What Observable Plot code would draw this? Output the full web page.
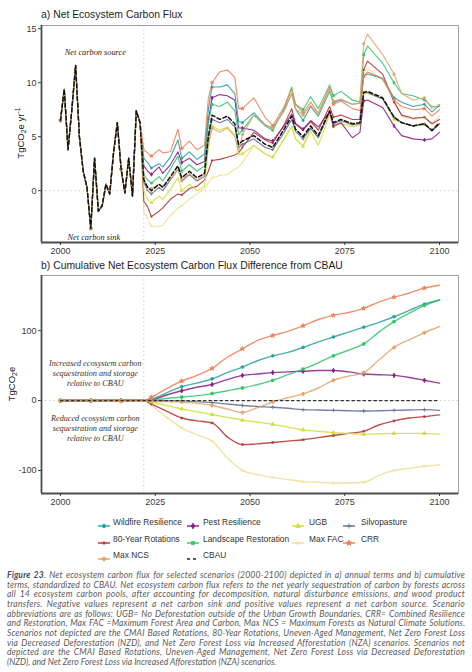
<!DOCTYPE html>
<html>
<head>
<meta charset="utf-8">
<script src="https://cdn.jsdelivr.net/npm/d3@7"></script>
<script src="https://cdn.jsdelivr.net/npm/@observablehq/plot@0.6"></script>
<style>
html,body{margin:0;padding:0;background:#fff;}
body{width:472px;height:672px;position:relative;overflow:hidden;font-family:"Liberation Sans",Arial,sans-serif;}
.abs{position:absolute;}
.ptitle{font-size:10.4px;color:#1e1e1e;line-height:12px;white-space:nowrap;}
.ylab{font-size:9.5px;color:#222;width:140px;height:12px;line-height:12px;text-align:center;transform:rotate(-90deg);white-space:nowrap;}
.ylab sub{font-size:7px;vertical-align:-2px;line-height:0}
.ylab sup{font-size:7px;vertical-align:4px;line-height:0}
.leg{font-size:8.4px;color:#333;line-height:10px;white-space:nowrap;}
#cap{left:7px;top:571px;width:458px;font-family:Lato,"Open Sans",sans-serif;font-style:italic;font-size:8.6px;line-height:9.67px;color:#5b5b5b;}
.cl{white-space:nowrap;height:9.67px;}
.cl b{color:#3f4b5e;font-weight:700;}
</style>
</head>
<body>
<div id="chartA" class="abs" style="left:0;top:0"></div>
<div id="chartB" class="abs" style="left:0;top:255px"></div>
<div class="abs ptitle" style="left:41px;top:9px">a) Net Ecosystem Carbon Flux</div>
<div class="abs ptitle" style="left:41px;top:260px">b) Cumulative Net Ecosystem Carbon Flux Difference from CBAU</div>
<div class="abs ylab" style="left:-49px;top:127px">TgCO<sub>2</sub>e yr<sup>-1</sup></div>
<div class="abs ylab" style="left:-58px;top:378px">TgCO<sub>2</sub>e</div>
<div id="legend"></div>
<div id="cap" class="abs"></div>
<script>
// ---------- DATA ----------
const histYears = [2000,2001,2002,2003,2004,2005,2006,2007,2008,2009,2010,2011,2012,2013,2014,2015,2016,2017,2018,2019,2020,2021];
const histFlux  = [6.5,9.4,3.8,7.5,11.6,5.0,1.8,0.3,-3.5,3.0,-1.9,-1.4,0.6,-0.3,3.5,6.3,2.0,-0.2,3.0,-0.5,7.4,6.3];

const scenYears = [2022,2023,2024,2026,2027,2029,2031,2032,2034,2036,2038,2039,2040,2042,2044,2046,2047,2048,2051,2054,2056,2059,2061,2062,2064,2066,2068,2071,2072,2074,2077,2079,2080,2081,2085,2088,2090,2093,2096,2098,2100];

const annualWildfire   = [3.0,2.6,2.1,2.5,2.2,3.1,4.7,3.0,3.6,2.9, 3.4,7.5,9.6,9.6,9.8,9.0,6.4,6.3,7.2,6.1, 5.8,7.4,9.0,7.6,6.5,7.8,6.9,9.2,8.2,8.4, 8.0,8.1,10.6,10.8,10.4,8.6,8.2,7.8,8.0,7.3,7.9];
const annualPest       = [2.3,1.8,1.5,2.2,1.6,2.4,3.6,2.6,3.0,2.4, 2.7,6.5,8.6,8.9,8.8,8.4,5.8,5.8,5.6,4.8, 4.6,6.0,7.1,6.2,5.7,6.5,5.9,7.3,6.0,6.3, 4.9,5.4,8.3,8.4,7.7,6.0,5.1,4.8,4.7,4.8,5.4];
const annualUGB        = [0.0,-0.8,-1.1,-0.5,-0.8,0.1,1.2,0.0,0.6,0.0, 0.4,4.0,6.0,5.6,5.9,5.2,3.3,3.4,4.2,3.4, 3.1,4.8,6.0,4.8,4.1,5.5,4.2,7.0,5.9,6.2, 5.9,6.1,9.0,9.0,8.5,6.6,6.3,6.0,6.1,5.6,6.2];
const annualSilvo      = [0.8,0.0,-0.3,0.3,0.0,1.0,2.0,0.9,1.5,0.9, 1.3,4.7,6.6,6.3,6.6,5.9,4.0,4.3,4.8,4.0, 3.8,5.4,6.6,5.5,4.8,5.8,4.9,7.3,6.2,6.5, 6.1,6.2,9.1,9.1,8.5,6.8,6.3,6.0,6.2,5.5,6.2];
const annual80Year     = [-1.0,-1.5,-2.4,-1.9,-1.6,-0.8,-0.3,-0.4,0.2,0.4, 1.0,1.8,2.8,2.9,3.1,3.3,3.5,4.0,5.4,4.7, 4.4,6.1,7.6,6.2,5.6,6.4,5.6,7.8,6.8,7.0, 6.6,6.6,11.2,12.0,10.8,8.2,7.0,6.7,6.8,6.2,6.6];
const annualLandscape  = [1.5,1.0,0.7,1.3,0.9,2.0,3.2,1.8,2.4,1.8, 2.3,6.2,8.0,7.8,8.2,7.4,5.2,5.6,7.0,6.0, 5.6,7.6,9.6,8.0,7.5,8.7,7.6,9.8,8.8,9.2, 8.4,8.2,12.6,13.4,11.8,10.0,9.0,8.8,8.4,7.8,7.8];
const annualMaxFAC     = [-2.0,-2.6,-3.3,-3.3,-3.2,-2.3,-1.6,-1.4,-0.8,-0.3, 0.2,0.7,1.2,1.4,1.5,2.0,2.2,2.6,4.2,3.4, 3.1,4.8,5.9,4.8,4.2,5.8,4.9,7.1,6.1,6.4, 6.0,6.1,11.0,11.3,10.2,8.4,6.9,6.6,6.8,6.2,6.9];
const annualCRR        = [3.8,3.5,3.2,3.8,3.5,3.6,5.7,3.9,4.6,3.8, 4.2,8.5,10.0,11.0,11.2,10.5,7.6,7.6,8.6,6.8, 6.0,7.8,9.4,8.0,7.2,8.2,7.2,9.6,8.0,8.3, 7.6,7.4,10.6,11.0,10.4,8.4,7.8,7.5,7.6,6.9,7.5];
const annualMaxNCS     = [1.0,0.3,0.2,0.6,0.4,1.1,2.0,1.0,1.6,1.0, 1.5,4.2,5.8,5.4,5.8,5.0,3.6,5.2,7.0,6.0, 5.8,7.4,9.0,7.6,7.0,7.9,7.1,9.4,8.3,8.5, 8.0,8.1,13.6,14.5,12.6,10.8,9.0,8.4,8.6,7.6,8.0];
const annualCBAU       = [1.0,0.3,0.0,0.6,0.3,1.3,2.3,1.2,1.8,1.2, 1.6,5.0,7.0,6.6,6.9,6.2,4.3,4.6,5.1,4.3, 4.0,5.7,6.9,5.7,5.0,6.0,5.1,7.4,6.3,6.6, 6.2,6.3,9.1,9.2,8.6,6.8,6.3,6.0,6.2,5.6,6.3];

const cumYears = [2000,2008,2016,2022,2024,2028,2032,2036,2040,2044,2048,2052,2056,2060,2064,2068,2072,2076,2080,2084,2088,2092,2096,2100];
const cumWildfire  = [0,0,0,0,2,11,20,25,31,40,48,57,64,69,76,84,91,98,105,112,120,129,138,144];
const cumPest      = [0,0,0,0,1,8,14,19,23,30,36,38,40,41,42,43,43,41,38,37,36,33,29,25];
const cumUGB       = [0,0,0,0,-2,-7,-12,-16,-20,-24,-28,-31,-34,-38,-42,-44,-46,-47,-48,-47.5,-47,-47,-47,-48];
const cumSilvo     = [0,0,0,0,0,-0.3,-0.5,-1.5,-3,-5,-7,-8.5,-9.5,-11,-13,-13.5,-14,-14.5,-15,-14.5,-14,-13.5,-13,-14];
const cum80Year    = [0,0,0,0,-5,-15,-25,-29,-32,-52,-63,-62,-60,-58,-56,-53,-50,-47,-44,-35,-29,-25,-23,-20.5];
const cumLandscape = [0,0,0,0,0.5,3,5,7,10,14,18,23,29,37,45,54,64,72,81,98,113,125,136,144];
const cumMaxFAC    = [0,0,0,0,-7,-24,-39,-49,-58,-82,-100,-106,-110,-113,-116,-117,-118,-118,-117,-107,-100,-97,-94,-92];
const cumCRR       = [0,0,0,0,5,17,28,36,46,62,74,86,93,99,107,116,122,126,132,141,148,154,161,165];
const cumMaxNCS    = [0,0,-1,-1,-1,-1.5,-2,-4,-7,-12,-17,-10,-2,4,9.5,18,29,35,40,58,76,87,97,106];
const cumCBAU      = [0,0,0,0,0,0,0,0,0,0,0,0,0,0,0,0,0,0,0,0,0,0,0,0];

const seriesNames   = ["Wildfire Resilience","Pest Resilience","UGB","Silvopasture","80-Year Rotations","Landscape Restoration","Max FAC","CRR","Max NCS","CBAU"];
const seriesColors  = ["#2a9fa3","#8a1c88","#cfdf3a","#5e6c8c","#b3302e","#33c46c","#f1dc91","#ef7e57","#e1a56e","#111111"];
const seriesSymbols = ["circle","diamond","triangle","plus","asterisk","square","times","star","cross","circle"];

const topTicksX = [2000,2025,2050,2075,2100];
const topTicksY = [0,5,10,15];
const botTicksY = [-100,0,100];

const captionLines = [
 "<b>Figure 23</b>. Net ecosystem carbon flux for selected scenarios (2000-2100) depicted in a) annual terms and b) cumulative",
 "terms, standardized to CBAU. Net ecosystem carbon flux refers to the net yearly sequestration of carbon by forests across",
 "all 14 ecosystem carbon pools, after accounting for decomposition, natural disturbance emissions, and wood product",
 "transfers. Negative values represent a net carbon sink and positive values represent a net carbon source. Scenario",
 "abbreviations are as follows: UGB= No Deforestation outside of the Urban Growth Boundaries, CRR= Combined Resilience",
 "and Restoration, Max FAC =Maximum Forest Area and Carbon, Max NCS = Maximum Forests as Natural Climate Solutions.",
 "Scenarios not depicted are the CMAI Based Rotations, 80-Year Rotations, Uneven-Aged Management, Net Zero Forest Loss",
 "via Decreased Deforestation (NZD), and Net Zero Forest Loss via Increased Afforestation (NZA) scenarios. Scenarios not",
 "depicted are the CMAI Based Rotations, Uneven-Aged Management, Net Zero Forest Loss via Decreased Deforestation",
 "(NZD), and Net Zero Forest Loss via Increased Afforestation (NZA) scenarios."
];

// ---------- BUILD ----------
const annualBySeries = {"Wildfire Resilience":annualWildfire,"Pest Resilience":annualPest,"UGB":annualUGB,"Silvopasture":annualSilvo,"80-Year Rotations":annual80Year,"Landscape Restoration":annualLandscape,"Max FAC":annualMaxFAC,"CRR":annualCRR,"Max NCS":annualMaxNCS};
const cumBySeries = {"Wildfire Resilience":cumWildfire,"Pest Resilience":cumPest,"UGB":cumUGB,"Silvopasture":cumSilvo,"80-Year Rotations":cum80Year,"Landscape Restoration":cumLandscape,"Max FAC":cumMaxFAC,"CRR":cumCRR,"Max NCS":cumMaxNCS};
const drawOrder = ["Max FAC","80-Year Rotations","UGB","Silvopasture","Pest Resilience","Wildfire Resilience","Landscape Restoration","CRR","Max NCS"];

const topRows = [];
for (const s of drawOrder) {
  histYears.forEach((yr,i)=>topRows.push({series:s,year:yr,value:histFlux[i]}));
  scenYears.forEach((yr,i)=>topRows.push({series:s,year:yr,value:annualBySeries[s][i]}));
}
const cbauTop = histYears.map((yr,i)=>({year:yr,value:histFlux[i]})).concat(scenYears.map((yr,i)=>({year:yr,value:annualCBAU[i]})));

const botRows = [];
for (const s of drawOrder) cumYears.forEach((yr,i)=>botRows.push({series:s,year:yr,value:cumBySeries[s][i]}));
const cbauBot = cumYears.map((yr,i)=>({year:yr,value:cumCBAU[i]}));

const baseStyle = {fontFamily:'"Liberation Sans", Arial, sans-serif', fontSize:"9px", color:"#3a3a3a", background:"transparent", overflow:"visible"};
const serif = '"Liberation Serif","DejaVu Serif",serif';
const dotted = {stroke:"#c2c2c2", strokeDasharray:"1.2,3", strokeWidth:1};

const chartA = Plot.plot({
  width:472, height:258, marginLeft:41, marginRight:14, marginTop:25, marginBottom:16,
  style: baseStyle,
  x:{domain:[1995,2105]},
  y:{domain:[-4.8,15.3]},
  color:{domain:seriesNames, range:seriesColors},
  symbol:{domain:seriesNames, range:seriesSymbols},
  marks:[
    Plot.ruleY([0], dotted),
    Plot.ruleX([2022], dotted),
    Plot.line(topRows,{x:"year",y:"value",z:"series",stroke:"series",strokeWidth:1.1,strokeOpacity:0.9}),
    Plot.dot(topRows.filter(d=>d.year%8===0),{x:"year",y:"value",symbol:"series",fill:"series",stroke:"series",r:1.1,strokeWidth:0.7}),
    Plot.line(cbauTop,{x:"year",y:"value",stroke:"#111",strokeWidth:1.5,strokeDasharray:"4,2.5"}),
    Plot.text(["Net carbon source"],{x:2009.2,y:12.8,text:d=>d,fontFamily:serif,fontStyle:"italic",fontSize:8.3,fill:"#222"}),
    Plot.text(["Net carbon sink"],{x:2008.8,y:-4.3,text:d=>d,fontFamily:serif,fontStyle:"italic",fontSize:8.3,fill:"#222"}),
    Plot.frame({stroke:"#a0a0a0",strokeWidth:1}),
    Plot.ruleX([1995],{stroke:"#4d4d4d",strokeWidth:1.8}),
    Plot.ruleY([-4.8],{stroke:"#4d4d4d",strokeWidth:1.8}),
    Plot.axisX({ticks:topTicksX,tickFormat:d=>String(d),tickSize:3,tickPadding:2,label:null}),
    Plot.axisY({ticks:topTicksY,tickFormat:d=>String(d),tickSize:3,tickPadding:2,label:null})
  ]
});
document.getElementById("chartA").appendChild(chartA);

const chartB = Plot.plot({
  width:472, height:252, marginLeft:41, marginRight:14, marginTop:20, marginBottom:14,
  style: baseStyle,
  x:{domain:[1995,2105]},
  y:{domain:[-133,179]},
  color:{domain:seriesNames, range:seriesColors},
  symbol:{domain:seriesNames, range:seriesSymbols},
  marks:[
    Plot.ruleY([0], dotted),
    Plot.ruleX([2022], dotted),
    Plot.line(botRows,{x:"year",y:"value",z:"series",stroke:"series",strokeWidth:1.4,strokeOpacity:0.85,curve:"monotone-x"}),
    Plot.dot(botRows.filter(d=>d.year%8===0),{x:"year",y:"value",symbol:"series",fill:"series",stroke:"series",r:1.4,strokeWidth:0.8}),
    Plot.line(cbauBot,{x:"year",y:"value",stroke:"#333",strokeWidth:1.3,strokeDasharray:"2.5,3"}),
    Plot.text(["Increased ecosystem carbon\nsequestration and storage\nrelative to CBAU"],{x:2009.2,y:40,text:d=>d,fontFamily:serif,fontStyle:"italic",fontSize:8.2,lineHeight:1.22,fill:"#333"}),
    Plot.text(["Reduced ecosystem carbon\nsequestration and storage\nrelative to CBAU"],{x:2009.2,y:-38.6,text:d=>d,fontFamily:serif,fontStyle:"italic",fontSize:8.2,lineHeight:1.22,fill:"#333"}),
    Plot.frame({stroke:"#a0a0a0",strokeWidth:1}),
    Plot.ruleX([1995],{stroke:"#4d4d4d",strokeWidth:1.8}),
    Plot.ruleY([-133],{stroke:"#4d4d4d",strokeWidth:1.8}),
    Plot.axisX({ticks:topTicksX,tickFormat:d=>String(d),tickSize:3,tickPadding:2,label:null}),
    Plot.axisY({ticks:botTicksY,tickFormat:d=>String(d),tickSize:3,tickPadding:2,label:null})
  ]
});
document.getElementById("chartB").appendChild(chartB);

// ---------- LEGEND ----------
const legendLayout = [["Wildfire Resilience","Pest Resilience","UGB","Silvopasture"],["80-Year Rotations","Landscape Restoration","Max FAC","CRR"],["Max NCS","CBAU"]];
const colSym = [104,193,298,349], colText = [113,203,309,361], rowY = [522,539,555];
const symMap = {circle:d3.symbolCircle, diamond:d3.symbolDiamond, triangle:d3.symbolTriangle, plus:d3.symbolPlus, asterisk:d3.symbolAsterisk, square:d3.symbolSquare, times:d3.symbolTimes, star:d3.symbolStar, cross:d3.symbolCross};
const strokeSyms = new Set(["plus","asterisk","times"]);
const legendEl = document.getElementById("legend");
legendLayout.forEach((row,ri)=>row.forEach((name,ci)=>{
  const k = seriesNames.indexOf(name);
  const col = seriesColors[k];
  let svg;
  if (name === "CBAU") {
    svg = `<svg width="14" height="10"><line x1="1" y1="5" x2="13" y2="5" stroke="#222" stroke-width="1.3" stroke-dasharray="3,3"/></svg>`;
  } else {
    const sym = seriesSymbols[k];
    const path = d3.symbol(symMap[sym], 10)();
    const fill = strokeSyms.has(sym) ? "none" : col;
    svg = `<svg width="14" height="10"><line x1="1" y1="5" x2="13" y2="5" stroke="${col}" stroke-width="1.4"/><path transform="translate(7,5)" d="${path}" fill="${fill}" stroke="${col}" stroke-width="0.8"/></svg>`;
  }
  const s = document.createElement("div");
  s.className = "abs"; s.style.left = (colSym[ci]-7)+"px"; s.style.top = (rowY[ri]-5)+"px"; s.innerHTML = svg;
  legendEl.appendChild(s);
  const t = document.createElement("div");
  t.className = "abs leg"; t.style.left = colText[ci]+"px"; t.style.top = (rowY[ri]-5)+"px"; t.textContent = name;
  legendEl.appendChild(t);
}));

// ---------- CAPTION ----------
const cap = document.getElementById("cap");
captionLines.forEach(l=>{
  const d = document.createElement("div"); d.className = "cl";
  d.innerHTML = `<span>${l}</span>`; cap.appendChild(d);
});
const target = 458;
cap.querySelectorAll(".cl").forEach((el,i,arr)=>{
  const span = el.firstChild;
  const w = span.getBoundingClientRect().width;
  if (w > target) {
    span.style.display = "inline-block"; span.style.transformOrigin = "left"; span.style.transform = `scaleX(${target/w})`;
  } else if (i < arr.length-1) {
    const txt = span.textContent;
    const spaces = (txt.match(/ /g)||[]).length;
    const extra = target - w;
    span.style.letterSpacing = (extra*0.5/txt.length)+"px";
    const w2 = span.getBoundingClientRect().width;
    span.style.wordSpacing = ((target-w2)/spaces)+"px";
  }
});
</script>
</body>
</html>
